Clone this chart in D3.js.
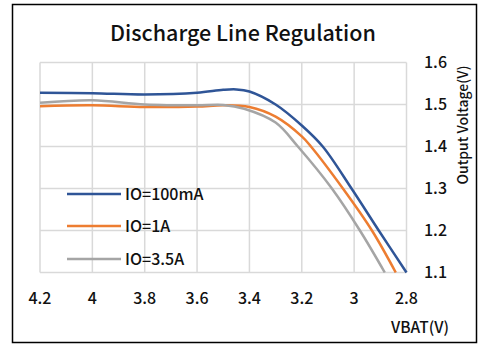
<!DOCTYPE html>
<html>
<head>
<meta charset="utf-8">
<script src="https://cdn.jsdelivr.net/npm/d3@7"></script>
<style>
  body { margin: 0; background: #fff; }
  text { font-family: "Noto Sans CJK SC", "Noto Sans", sans-serif; fill: #111; font-weight: 500; }
</style>
</head>
<body>
<div id="chart"></div>
<script>
var W = 478, H = 345;

// tick labels
var xTicks = [4.2, 4, 3.8, 3.6, 3.4, 3.2, 3, 2.8];
var yTicks = [1.1, 1.2, 1.3, 1.4, 1.5, 1.6];

// series (VBAT -> output voltage)
var names = ["IO=100mA", "IO=1A", "IO=3.5A"];
var colors = ["#2F5597", "#ED7D31", "#A5A5A5"];

var vbat100mA = [4.2, 4.0, 3.8, 3.6, 3.5, 3.45, 3.4, 3.3, 3.2, 3.12, 3.01, 2.906, 2.8];
var vout100mA = [1.528, 1.527, 1.524, 1.528, 1.535, 1.536, 1.531, 1.50, 1.45, 1.40, 1.30, 1.20, 1.10];

var vbat1A = [4.2, 4.0, 3.8, 3.6, 3.5, 3.4, 3.3, 3.2, 3.165, 3.043, 2.932, 2.841];
var vout1A = [1.496, 1.498, 1.494, 1.495, 1.498, 1.494, 1.471, 1.424, 1.40, 1.30, 1.20, 1.10];

var vbat35A = [4.2, 4.0, 3.8, 3.6, 3.5, 3.42, 3.3, 3.215, 3.085, 2.978, 2.883];
var vout35A = [1.504, 1.51, 1.50, 1.498, 1.499, 1.49, 1.457, 1.40, 1.30, 1.20, 1.10];

var vbats = [vbat100mA, vbat1A, vbat35A];
var vouts = [vout100mA, vout1A, vout35A];

var svg = d3.select("#chart").append("svg")
    .attr("width", W)
    .attr("height", H);

// outer frame
svg.append("rect")
    .attr("x", 12.5).attr("y", 4.5)
    .attr("width", 464).attr("height", 338)
    .attr("fill", "#fff")
    .attr("stroke", "#000")
    .attr("stroke-width", 1.5);

var x = d3.scaleLinear().domain([4.2, 2.8]).range([40, 406.5]);
var y = d3.scaleLinear().domain([1.1, 1.6]).range([272.5, 62.5]);

// grid
svg.append("g").selectAll("line.v")
    .data(xTicks)
    .enter()
    .append("line")
    .attr("x1", function(d) { return x(d); })
    .attr("x2", function(d) { return x(d); })
    .attr("y1", y(1.6))
    .attr("y2", y(1.1))
    .attr("stroke", "#d9d9d9")
    .attr("stroke-width", 1.5);

svg.append("g").selectAll("line.h")
    .data(yTicks)
    .enter()
    .append("line")
    .attr("x1", x(4.2))
    .attr("x2", x(2.8))
    .attr("y1", function(d) { return y(d); })
    .attr("y2", function(d) { return y(d); })
    .attr("stroke", "#d9d9d9")
    .attr("stroke-width", 1.5);

// x tick labels
svg.append("g").selectAll("text")
    .data(xTicks)
    .enter()
    .append("text")
    .attr("x", function(d) { return x(d); })
    .attr("y", 304)
    .attr("text-anchor", "middle")
    .style("font-size", "16px")
    .text(function(d) { return d; });

// y tick labels (right side)
svg.append("g").selectAll("text")
    .data(yTicks)
    .enter()
    .append("text")
    .attr("x", 424)
    .attr("y", function(d) { return y(d) + 5; })
    .style("font-size", "16px")
    .text(function(d) { return d.toFixed(1); });

// axis titles
svg.append("text")
    .attr("x", 420).attr("y", 333)
    .attr("text-anchor", "middle")
    .style("font-size", "15.5px")
    .text("VBAT(V)");

svg.append("text")
    .attr("transform", "translate(468,125) rotate(-90)")
    .attr("text-anchor", "middle")
    .style("font-size", "14px")
    .text("Output Voltage(V)");

// title
svg.append("text")
    .attr("x", 243).attr("y", 41)
    .attr("text-anchor", "middle")
    .style("font-size", "21.5px")
    .text("Discharge Line Regulation");

// lines
var line = d3.line()
    .x(function(d) { return x(d[0]); })
    .y(function(d) { return y(d[1]); })
    .curve(d3.curveCatmullRom);

svg.append("g").selectAll("path")
    .data(names)
    .enter()
    .append("path")
    .attr("d", function(d, i) { return line(d3.zip(vbats[i], vouts[i])); })
    .attr("fill", "none")
    .attr("stroke", function(d, i) { return colors[i]; })
    .attr("stroke-width", 2.5);

// legend
var legendY = [194, 226, 259];
var lg = svg.append("g").selectAll("g")
    .data(names)
    .enter()
    .append("g");

lg.append("line")
    .attr("x1", 67).attr("x2", 121)
    .attr("y1", function(d, i) { return legendY[i]; })
    .attr("y2", function(d, i) { return legendY[i]; })
    .attr("stroke", function(d, i) { return colors[i]; })
    .attr("stroke-width", 2.5);

lg.append("text")
    .attr("x", 125)
    .attr("y", function(d, i) { return legendY[i] + 5.5; })
    .style("font-size", "16px")
    .text(function(d) { return d; });
</script>
</body>
</html>
